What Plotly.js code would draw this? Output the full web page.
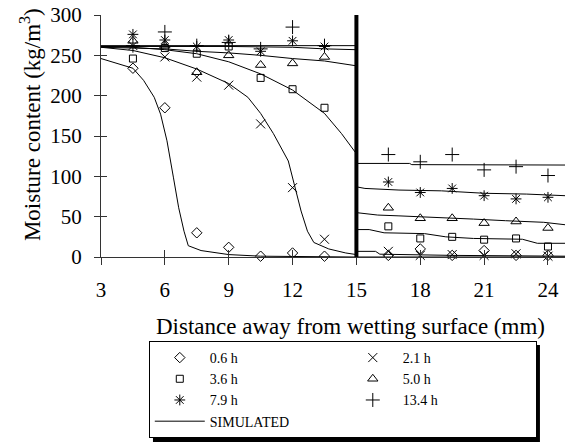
<!DOCTYPE html>
<html>
<head>
<meta charset="utf-8">
<script src="https://cdn.plot.ly/plotly-3.0.1.min.js"></script>
<style>html,body{margin:0;padding:0;background:#fff;}#chart{width:565px;height:442px;}</style>
</head>
<body>
<div id="chart"></div>
<script>
// ---- data ----
var seriesNames = ["0.6 h", "2.1 h", "3.6 h", "5.0 h", "7.9 h", "13.4 h"];
var measX = [4.5, 6, 7.5, 9, 10.5, 12, 13.5, 16.5, 18, 19.5, 21, 22.5, 24];
var meas06  = [234, 185, 30, 12, 1, 5, 1, 2, 10, 2, 8, 2, 2];
var meas21  = [262, 248, 223, 213, 165, 86, 22, 7, 2, 3, 2, 4, 1];
var meas36  = [246, 259, 252, 261, 222, 208, 185, 38, 23, 25, 21.5, 23, 13];
var meas50  = [268, 262, 229, 250, 238, 240, 248, 61, 48, 48, 42, 44, 36];
var meas79  = [276, 269, 261, 269, 255, 268, 261, 93, 80, 85, 76, 72, 74];
var meas134 = [262, 279, 262, 266, 258, 285, 262, 127, 118, 127, 108, 112, 101];

// simulated curves: left (x<15) and right (x>15) of the interface
var sim06L_x = [3, 4.5, 5, 5.5, 5.8, 6.1, 6.4, 6.65, 6.9, 7.1, 7.7, 9, 10.5, 12, 15];
var sim06L_y = [246, 234, 219, 198, 177, 144, 99, 61, 32, 14, 8, 3, 1, 0.5, 0];
var sim06R_x = [15, 24.8];
var sim06R_y = [0, 0];

var sim21L_x = [3, 4.5, 6, 7.5, 9, 9.9, 10.5, 11.1, 11.8, 12.1, 12.4, 12.7, 13.0, 13.7, 14.5, 15];
var sim21L_y = [260, 256, 247, 233, 215, 198, 178, 153, 119, 86, 57, 32, 18, 10, 5, 3];
var sim21R_x = [15, 15.9, 16.1, 19.5, 24.8];
var sim21R_y = [7, 7, 3.5, 2, 1];

var sim36L_x = [3, 4.5, 6, 7.5, 9, 10.5, 12, 13.5, 14.3, 15];
var sim36L_y = [261, 260, 257, 252, 242, 227, 207, 178, 153, 128];
var sim36R_x = [15, 15.6, 16.3, 18.2, 19.2, 20.5, 22.8, 23.5, 24.8];
var sim36R_y = [34, 34, 30, 29, 25, 23, 22, 17, 17];

var sim50L_x = [3, 6, 7.5, 9, 10.5, 12, 13.5, 15];
var sim50L_y = [260, 258, 255, 253, 250, 246, 243, 237];
var sim50R_x = [15, 16, 17, 19, 20.5, 22, 23.8, 24.8];
var sim50R_y = [55, 52, 51, 49, 47, 45, 43, 40];

var sim79L_x = [3, 9, 12, 13.5, 15];
var sim79L_y = [261, 261, 260, 258, 257];
var sim79R_x = [15, 15.4, 17, 19, 21, 23, 24.8];
var sim79R_y = [87, 85, 83, 82, 79, 78, 76];

var sim134L_x = [3, 15];
var sim134L_y = [262, 262];
var sim134R_x = [15, 17.5, 17.6, 24.8];
var sim134R_y = [116, 116, 114.5, 114];

var xTicks = [3, 6, 9, 12, 15, 18, 21, 24];
var yTicks = [0, 50, 100, 150, 200, 250, 300];

// ---- build ----
var FONT = "Liberation Serif, Times New Roman, serif";
var traces = [];
var sims = [
  [sim06L_x, sim06L_y, sim06R_x, sim06R_y],
  [sim21L_x, sim21L_y, sim21R_x, sim21R_y],
  [sim36L_x, sim36L_y, sim36R_x, sim36R_y],
  [sim50L_x, sim50L_y, sim50R_x, sim50R_y],
  [sim79L_x, sim79L_y, sim79R_x, sim79R_y],
  [sim134L_x, sim134L_y, sim134R_x, sim134R_y]
];
sims.forEach(function (s, i) {
  traces.push({
    x: s[0].concat([null]).concat(s[2]),
    y: s[1].concat([null]).concat(s[3]),
    mode: "lines", type: "scatter",
    line: {color: "#000", width: 1},
    name: "SIMULATED", legendgroup: "sim",
    showlegend: i === 0, legendrank: 2000,
    hoverinfo: "skip", cliponaxis: false
  });
});
var meas = [meas06, meas21, meas36, meas50, meas79, meas134];
var symbols = ["diamond-open", "x-thin-open", "square-open", "triangle-up-open", "asterisk-open", "cross-thin-open"];
var sizes = [8, 9, 7, 9, 9, 10];
meas.forEach(function (m, i) {
  traces.push({
    x: measX, y: m, mode: "markers", type: "scatter",
    name: seriesNames[i], legendrank: 1000 + i,
    marker: {symbol: symbols[i], size: sizes[i], color: "#000", line: {color: "#000", width: 1}},
    cliponaxis: false
  });
});
// overlay axes for crossing ticks
traces.push({x: [], y: [], xaxis: "x2", yaxis: "y2", showlegend: false, hoverinfo: "skip", type: "scatter"});

var layout = {
  width: 565, height: 442,
  margin: {l: 101, r: 0, t: 15, b: 185, autoexpand: false},
  paper_bgcolor: "#fff", plot_bgcolor: "#fff",
  font: {family: FONT, color: "#000", size: 20},
  showlegend: true,
  xaxis: {
    range: [3, 24.8], tickvals: xTicks, ticktext: xTicks.map(String),
    ticks: "inside", ticklen: 7, tickcolor: "#333", tickwidth: 1,
    showline: true, linecolor: "#333", linewidth: 1,
    showgrid: false, zeroline: false, automargin: false,
    tickfont: {family: FONT, size: 21, color: "#000"}, ticklabelstandoff: 14
  },
  xaxis2: {
    overlaying: "x", anchor: "y2", range: [3, 24.8], tickvals: xTicks,
    ticks: "outside", ticklen: 7, tickcolor: "#333", showticklabels: false,
    showline: false, showgrid: false, zeroline: false
  },
  yaxis: {
    range: [0, 300], tickvals: yTicks, ticktext: yTicks.map(String),
    ticks: "outside", ticklen: 6, tickcolor: "#333", tickwidth: 1,
    showline: true, linecolor: "#333", linewidth: 1,
    showgrid: false, zeroline: false, automargin: false,
    tickfont: {family: FONT, size: 21, color: "#000"}, ticklabelstandoff: 8
  },
  yaxis2: {
    overlaying: "y", anchor: "x2", range: [0, 300], tickvals: yTicks,
    ticks: "inside", ticklen: 6, tickcolor: "#333", showticklabels: false,
    showline: false, showgrid: false, zeroline: false
  },
  shapes: [
    {type: "line", xref: "x", yref: "y", x0: 15, x1: 15, y0: 0, y1: 302,
     line: {color: "#000", width: 4}},
    // legend drop shadow
    {type: "rect", xref: "paper", yref: "paper", x0: 0.112, x1: 0.946, y0: -0.764, y1: -0.364,
     fillcolor: "#000", line: {width: 0}, layer: "above"}
  ],
  annotations: [
    {xref: "paper", yref: "paper", x: 0.537, y: -0.289, showarrow: false,
     text: "Distance away from wetting surface (mm)", font: {family: FONT, size: 23, color: "#000"},
     xanchor: "center", yanchor: "middle"},
    {xref: "paper", yref: "paper", x: -0.153, y: 0.545, showarrow: false, textangle: -90,
     text: "Moisture content (kg/m<sup>3</sup>)", font: {family: FONT, size: 23, color: "#000"},
     xanchor: "center", yanchor: "middle"}
  ],
  legend: {
    orientation: "h", x: 0.103, y: -0.347, xanchor: "left", yanchor: "top",
    bgcolor: "#fff", bordercolor: "#000", borderwidth: 1,
    font: {family: FONT, size: 14, color: "#000"},
    entrywidth: 128, entrywidthmode: "pixels", itemwidth: 50, traceorder: "normal"
  }
};
Plotly.newPlot("chart", traces, layout, {displayModeBar: false, staticPlot: true});
</script>
</body>
</html>
